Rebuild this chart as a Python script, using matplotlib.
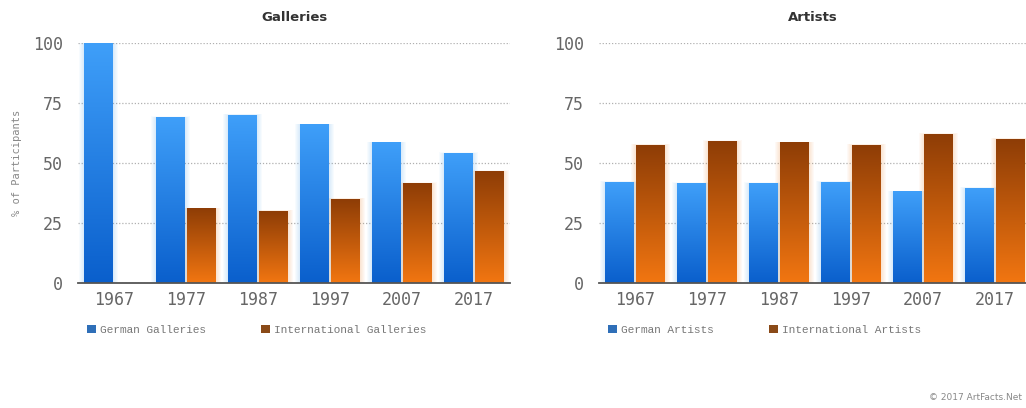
import numpy as np
import matplotlib
matplotlib.use("Agg")
import matplotlib.pyplot as plt
from matplotlib.patches import Patch, Rectangle
from matplotlib.colors import LinearSegmentedColormap

# Anteile der Teilnehmer in Prozent
years = ["1967", "1977", "1987", "1997", "2007", "2017"]
german_galleries = [100, 69, 70, 66, 58.5, 54]
intl_galleries = [0, 31, 30, 35, 41.5, 46.5]
german_artists = [42, 41.5, 41.5, 42, 38, 39.5]
intl_artists = [57.5, 59, 58.5, 57.5, 62, 60]

blue_cmap = LinearSegmentedColormap.from_list("blau", ["#0a5fcc", "#3f9ff9"])
orange_cmap = LinearSegmentedColormap.from_list("orange", ["#f27611", "#8e3d06"])

mono = "DejaVu Sans Mono"
grey = "#666666"

fig = plt.figure(figsize=(10.26, 4.08), dpi=100)
ax1 = fig.add_axes([78 / 1026, 1 - 283 / 408, 432 / 1026, 240 / 408])
ax2 = fig.add_axes([599 / 1026, 1 - 283 / 408, 432 / 1026, 240 / 408])

grad = np.linspace(0, 1, 256).reshape(-1, 1)


def gradient_bars(ax, x, values, cmap, glow):
    bars = ax.bar(x, values, width=0.39, color="none", zorder=3)
    for b in bars:
        h = b.get_height()
        if h <= 0:
            continue
        x0, w = b.get_x(), b.get_width()
        # weicher Schein um die Balken
        for k in range(1, 6):
            d = 0.014 * k
            ax.add_patch(Rectangle((x0 - d, 0), w + 2 * d, h + d * 6,
                                   color=glow, alpha=0.045, lw=0, zorder=2))
        ax.imshow(grad, cmap=cmap, aspect="auto", origin="lower",
                  extent=[x0, x0 + w, 0, h], zorder=3)
    return bars


def style(ax, title, legend_labels):
    x = np.arange(len(years))
    ax.set_xlim(-0.5, 5.5)
    ax.set_ylim(0, 100)
    ax.set_yticks([0, 25, 50, 75, 100])
    ax.set_xticks(x)
    ax.set_xticklabels(years)
    for s in ["top", "right", "left"]:
        ax.spines[s].set_visible(False)
    ax.spines["bottom"].set_color("#555555")
    ax.spines["bottom"].set_linewidth(1.3)
    ax.spines["bottom"].set_zorder(5)
    ax.tick_params(axis="both", length=0, labelcolor=grey, labelsize=12)
    ax.tick_params(axis="x", pad=6)
    ax.tick_params(axis="y", pad=11)
    for lab in ax.get_xticklabels() + ax.get_yticklabels():
        lab.set_fontfamily(mono)
    ax.yaxis.grid(True, linestyle=(0, (1, 1.5)), color="#b0b0b0", lw=0.9)
    ax.set_axisbelow(True)
    ax.set_title(title, fontsize=9.5, fontweight="bold", color="#333333", pad=16)
    handles = [Patch(facecolor="#2f6fb8", edgecolor="none"),
               Patch(facecolor="#8a4a18", edgecolor="none")]
    ax.legend(handles, legend_labels, ncol=2, loc="center left",
              bbox_to_anchor=(0.01, -0.196), frameon=False,
              prop={"family": "Liberation Mono", "size": 8},
              labelcolor="#777777", handlelength=0.8, handleheight=0.8,
              handletextpad=0.35, columnspacing=5.0, borderaxespad=0)


x = np.arange(len(years))
gradient_bars(ax1, x - 0.215, german_galleries, blue_cmap, "#4da3f5")
gradient_bars(ax1, x + 0.215, intl_galleries, orange_cmap, "#f08a30")
style(ax1, "Galleries", ["German Galleries", "International Galleries"])
ax1.set_ylabel("% of Participants", fontfamily=mono, fontsize=7.5,
               color="#888888")
ax1.yaxis.set_label_coords(-0.13, 0.5)

gradient_bars(ax2, x - 0.215, german_artists, blue_cmap, "#4da3f5")
gradient_bars(ax2, x + 0.215, intl_artists, orange_cmap, "#f08a30")
style(ax2, "Artists", ["German Artists", "International Artists"])
ax2.set_title("Artists", fontsize=9.5, fontweight="bold", color="#333333",
              pad=16, x=(813 - 599) / 432)

fig.text(0.996, 0.025, "\u00a9 2017 ArtFacts.Net", ha="right", va="center",
         fontsize=6.5, color="#888888")

fig.savefig("out.png", dpi=100)
